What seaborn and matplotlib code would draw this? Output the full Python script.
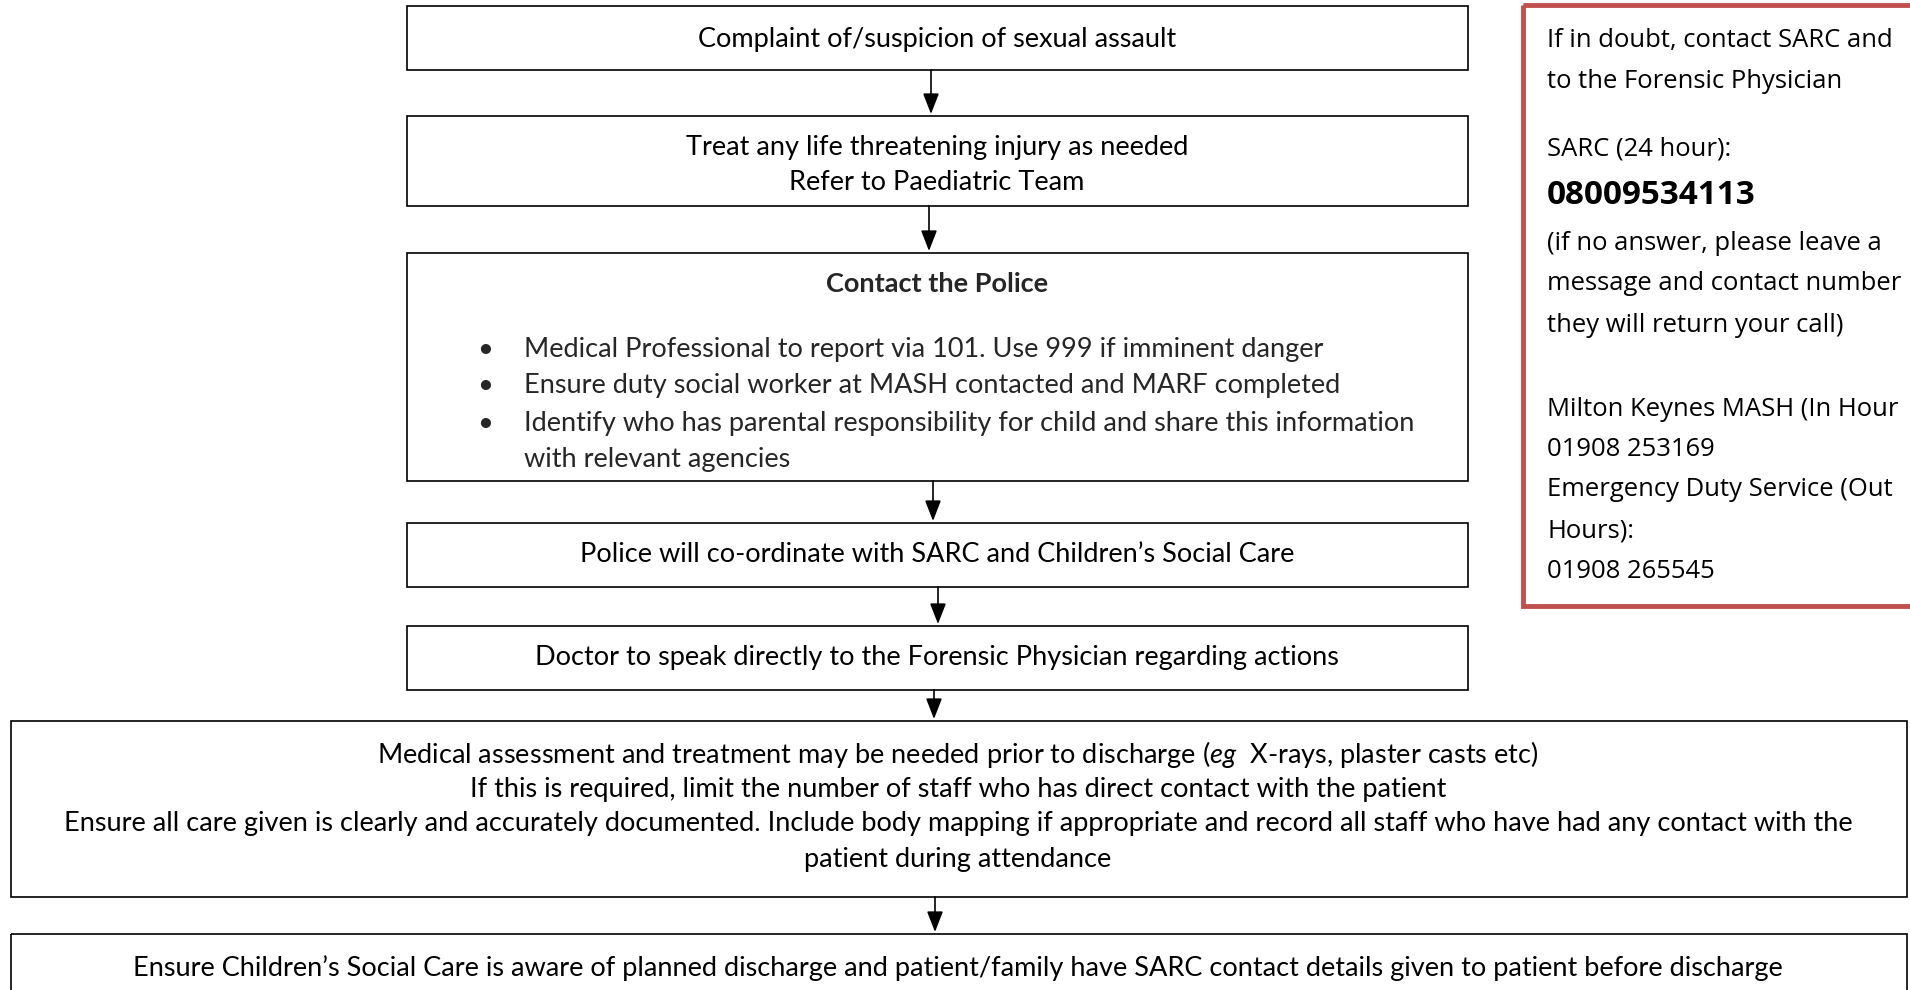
import matplotlib
matplotlib.use("Agg")
import matplotlib.pyplot as plt
from matplotlib.patches import Rectangle, FancyArrowPatch
import seaborn as sns

# ---- content ----
box1_text = ["Complaint of/suspicion of sexual assault"]
box2_text = ["Treat any life threatening injury as needed", "Refer to Paediatric Team"]
box3_title = "Contact the Police"
box3_bullets = [
    ["Medical Professional to report via 101. Use 999 if imminent danger"],
    ["Ensure duty social worker at MASH contacted and MARF completed"],
    ["Identify who has parental responsibility for child and share this information",
     "with relevant agencies"],
]
box4_text = ["Police will co-ordinate with SARC and Children\u2019s Social Care"]
box5_text = ["Doctor to speak directly to the Forensic Physician regarding actions"]
box6_text = [
    "Medical assessment and treatment may be needed prior to discharge ($\\mathit{eg}$  X-rays, plaster casts etc)",
    "If this is required, limit the number of staff who has direct contact with the patient",
    "Ensure all care given is clearly and accurately documented. Include body mapping if appropriate and record all staff who have had any contact with the",
    "patient during attendance",
]
box7_text = ["Ensure Children\u2019s Social Care is aware of planned discharge and patient/family have SARC contact details given to patient before discharge"]
# side panel as visible in the reference (cut at the right page edge)
side_lines = [
    ("If in doubt, contact SARC and", False),
    ("to the Forensic Physician", False),
    ("", False),
    ("SARC (24 hour):", False),
    ("08009534113", True),
    ("(if no answer, please leave a", False),
    ("message and contact number", False),
    ("they will return your call)", False),
    ("", False),
    ("Milton Keynes MASH (In Hour", False),
    ("01908 253169", False),
    ("Emergency Duty Service (Out", False),
    ("Hours):", False),
    ("01908 265545", False),
]

sns.set_theme(style="white")
plt.rcParams["font.family"] = ["Lato", "DejaVu Sans"]
plt.rcParams["mathtext.fontset"] = "custom"
plt.rcParams["mathtext.rm"] = "Lato"
plt.rcParams["mathtext.it"] = "Lato:italic"

W, H = 1910, 990
fig = plt.figure(figsize=(W / 100, H / 100), dpi=100, facecolor="white")
ax = fig.add_axes([0, 0, 1, 1])
ax.set_xlim(0, W)
ax.set_ylim(H, 0)
ax.axis("off")

renderer = fig.canvas.get_renderer()

def fit_size(s, target_px, family, weight="normal"):
    t = ax.text(0, 0, s, fontsize=10, family=family, weight=weight)
    w = t.get_window_extent(renderer).width
    t.remove()
    return 10 * target_px / w

main_fs = fit_size("Complaint of/suspicion of sexual assault", 480, ["Lato"])
side_fs = fit_size("to the Forensic Physician", 295, ["Open Sans"])
phone_fs = fit_size("08009534113", 209, ["Open Sans"], "bold")

DY = 3  # vertical text offset

def box(x0, y0, x1, y1, ec="black", lw=1.2):
    ax.add_patch(Rectangle((x0, y0), x1 - x0, y1 - y0, fill=False, ec=ec, lw=lw, clip_on=True))

def centered(lines, cx, ys, **kw):
    for s, y in zip(lines, ys):
        ax.text(cx, y + DY, s, ha="center", va="center", fontsize=main_fs, color="black", **kw)

def arrow(x, y0, y1):
    ax.add_patch(FancyArrowPatch((x, y0), (x, y1), arrowstyle="-|>,head_length=0.9,head_width=0.35",
                                 mutation_scale=14, lw=1.2, color="black", shrinkA=0, shrinkB=0))

# boxes
box(407, 6, 1468, 70)
centered(box1_text, 937, [37])
box(407, 116, 1468, 206)
centered(box2_text, 937, [144, 180])
box(407, 253, 1468, 481)
ax.text(937, 281 + DY, box3_title, ha="center", va="center", fontsize=main_fs, weight="bold")
yb = [346, 382, 420]
for lines, y in zip(box3_bullets, yb):
    ax.text(485, y + DY, "\u2022", ha="center", va="center", fontsize=main_fs)
    for k, s in enumerate(lines):
        ax.text(524, y + DY + k * 37, s, ha="left", va="center", fontsize=main_fs)
box(407, 523, 1468, 587)
centered(box4_text, 937, [552])
box(407, 626, 1468, 690)
centered(box5_text, 937, [655])
box(11, 721, 1907, 897)
centered(box6_text, 958, [751, 786, 821, 857])
box(11, 934, 1907, 1020)
centered(box7_text, 958, [965])

# arrows
arrow(931, 70, 114)
arrow(929, 206, 251)
arrow(933, 481, 521)
arrow(938, 587, 624)
arrow(934, 690, 719)
arrow(935, 897, 932)

# side panel
box(1523, 5, 1940, 606, ec="#C0504D", lw=3.5)
ys = [37, 79, None, 146, 192, 240, 281, 323, None, 406, 446, 486, 528, 569]
for (s, bold), y in zip(side_lines, ys):
    if not s:
        continue
    ax.text(1547, y + DY, s, ha="left", va="center",
            fontsize=phone_fs if bold else side_fs,
            weight="bold" if bold else "normal",
            family=["Open Sans", "DejaVu Sans"], color="black", clip_on=True)

fig.savefig("out.png", dpi=100, facecolor="white")
